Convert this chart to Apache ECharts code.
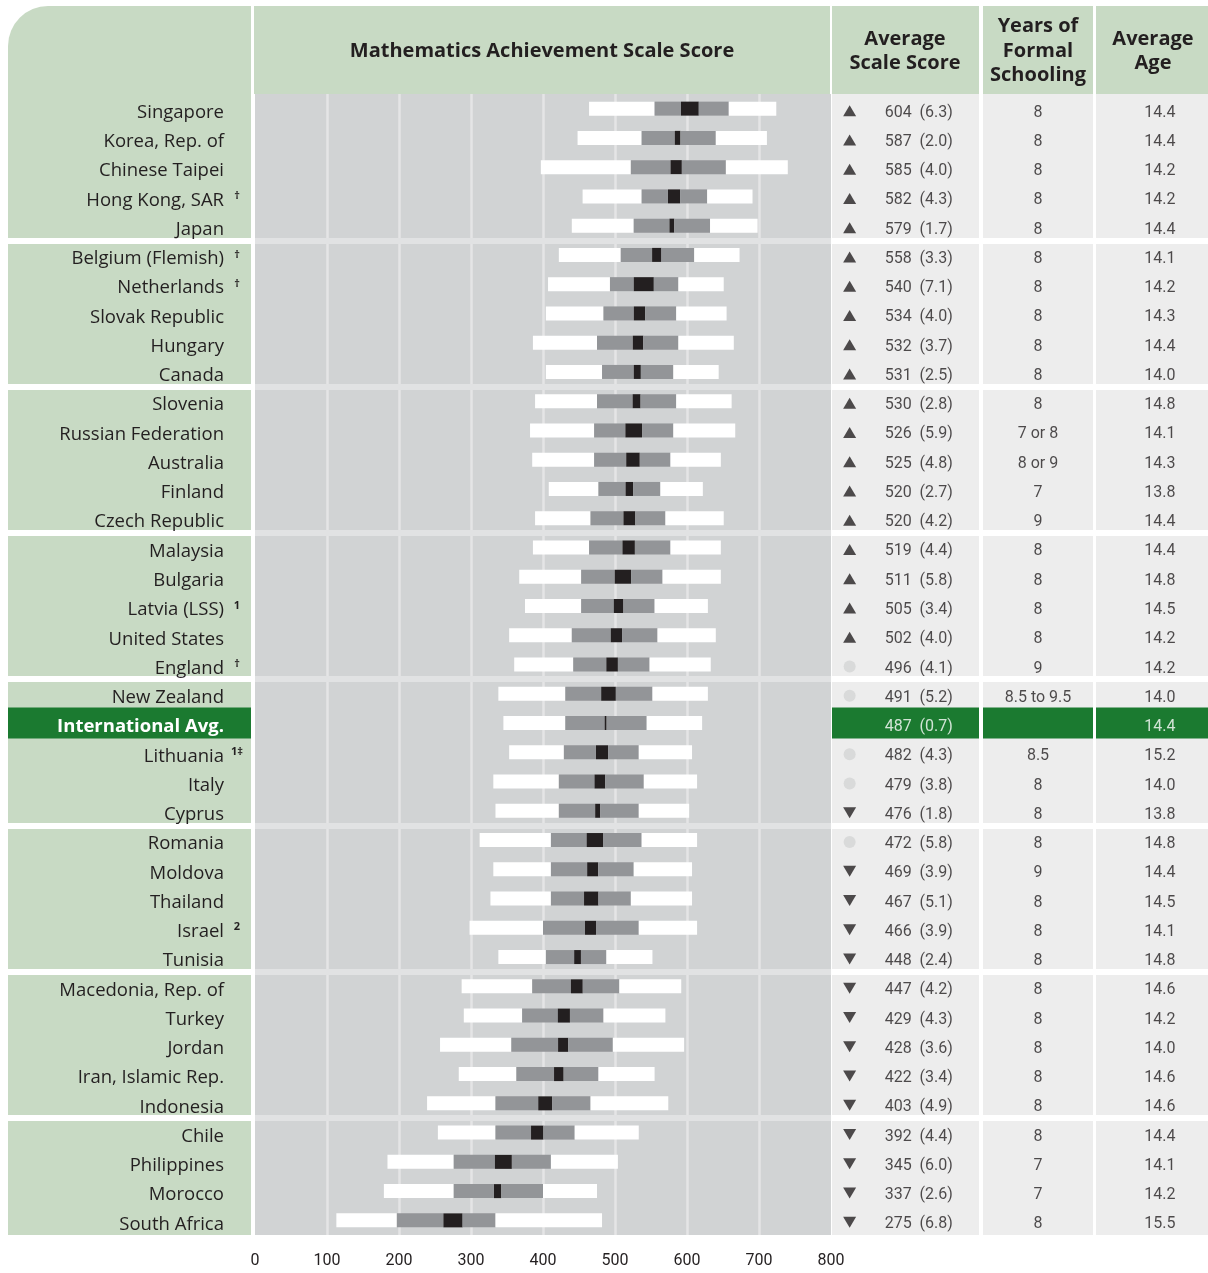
<!DOCTYPE html>
<html>
<head>
<meta charset="utf-8">
<script src="https://cdn.jsdelivr.net/npm/echarts@6/dist/echarts.min.js"></script>
<style>
  html, body { margin: 0; padding: 0; background: #fff; }
  #chart { width: 1208px; height: 1273px; }
</style>
</head>
<body>
<div id="chart"></div>
<script>
// countries in rank order, footnote marks shown after the name
const countries = ['Singapore', 'Korea, Rep. of', 'Chinese Taipei', 'Hong Kong, SAR', 'Japan',
  'Belgium (Flemish)', 'Netherlands', 'Slovak Republic', 'Hungary', 'Canada',
  'Slovenia', 'Russian Federation', 'Australia', 'Finland', 'Czech Republic',
  'Malaysia', 'Bulgaria', 'Latvia (LSS)', 'United States', 'England',
  'New Zealand', 'International Avg.', 'Lithuania', 'Italy', 'Cyprus',
  'Romania', 'Moldova', 'Thailand', 'Israel', 'Tunisia',
  'Macedonia, Rep. of', 'Turkey', 'Jordan', 'Iran, Islamic Rep.', 'Indonesia',
  'Chile', 'Philippines', 'Morocco', 'South Africa'];
const footnotes = ['', '', '', '†', '',
  '†', '†', '', '', '',
  '', '', '', '', '',
  '', '', '1', '', '†',
  '', '', '1‡', '', '',
  '', '', '', '2', '',
  '', '', '', '', '',
  '', '', '', ''];

// average scale score and its standard error
const means = [604, 587, 585, 582, 579, 558, 540, 534, 532, 531,
  530, 526, 525, 520, 520, 519, 511, 505, 502, 496,
  491, 487, 482, 479, 476, 472, 469, 467, 466, 448,
  447, 429, 428, 422, 403, 392, 345, 337, 275];
const stdErrs = [6.3, 2.0, 4.0, 4.3, 1.7, 3.3, 7.1, 4.0, 3.7, 2.5,
  2.8, 5.9, 4.8, 2.7, 4.2, 4.4, 5.8, 3.4, 4.0, 4.1,
  5.2, 0.7, 4.3, 3.8, 1.8, 5.8, 3.9, 5.1, 3.9, 2.4,
  4.2, 4.3, 3.6, 3.4, 4.9, 4.4, 6.0, 2.6, 6.8];

// percentiles of performance
const p5 = [464, 448, 397, 455, 440, 422, 407, 404, 386, 404,
  389, 382, 385, 408, 389, 386, 367, 375, 353, 360,
  338, 345, 353, 331, 334, 312, 331, 327, 298, 338,
  287, 290, 257, 283, 239, 254, 184, 179, 113];
const p25 = [555, 537, 522, 537, 526, 508, 493, 484, 475, 482,
  475, 471, 471, 477, 466, 464, 453, 453, 440, 442,
  431, 431, 429, 422, 422, 411, 411, 411, 400, 404,
  385, 371, 356, 363, 334, 334, 276, 276, 197];
const p75 = [658, 640, 654, 628, 632, 610, 588, 585, 588, 581,
  585, 581, 577, 563, 570, 577, 566, 555, 559, 548,
  552, 544, 533, 540, 533, 537, 526, 522, 533, 488,
  506, 484, 497, 477, 466, 444, 411, 400, 334];
const p95 = [724, 711, 740, 691, 698, 673, 651, 655, 665, 644,
  662, 667, 647, 622, 651, 647, 647, 629, 640, 633,
  629, 621, 607, 614, 603, 614, 607, 607, 614, 552,
  592, 570, 596, 555, 574, 533, 504, 475, 482];

const years = ['8', '8', '8', '8', '8', '8', '8', '8', '8', '8',
  '8', '7 or 8', '8 or 9', '7', '9', '8', '8', '8', '8', '9',
  '8.5 to 9.5', '', '8.5', '8', '8', '8', '9', '8', '8', '8',
  '8', '8', '8', '8', '8', '8', '7', '7', '8'];
const ages = [14.4, 14.4, 14.2, 14.2, 14.4, 14.1, 14.2, 14.3, 14.4, 14.0,
  14.8, 14.1, 14.3, 13.8, 14.4, 14.4, 14.8, 14.5, 14.2, 14.2,
  14.0, 14.4, 15.2, 14.0, 13.8, 14.8, 14.4, 14.5, 14.1, 14.8,
  14.6, 14.2, 14.0, 14.6, 14.6, 14.4, 14.1, 14.2, 15.5];

// up = significantly higher than intl avg, down = lower, same = no difference
const signif = ['up', 'up', 'up', 'up', 'up', 'up', 'up', 'up', 'up', 'up',
  'up', 'up', 'up', 'up', 'up', 'up', 'up', 'up', 'up', 'same',
  'same', '', 'same', 'same', 'down', 'same', 'down', 'down', 'down', 'down',
  'down', 'down', 'down', 'down', 'down', 'down', 'down', 'down', 'down'];

const xTicks = [0, 100, 200, 300, 400, 500, 600, 700, 800];
const groupSize = 5;

const N = countries.length;
const intlIdx = countries.indexOf('International Avg.');
const rowIdx = countries.map((_, i) => i);
const ciLow = rowIdx.map(i => means[i] - 1.96 * stdErrs[i]);
const ciHigh = rowIdx.map(i => means[i] + 1.96 * stdErrs[i]);
const breaks = [];
for (let b = groupSize; b < N; b += groupSize) breaks.push(b);

const INK = '#231f20';
const GREEN = '#c8dac4';
const DARK = '#1b7a30';
const NUM_FONT = 'Roboto';
const TXT_FONT = 'Open Sans';

const TOP = 94, BODY_H = 1141;
// 0 label panel, 1 plot, 2 score, 3 years, 4 age
const panels = [
  { left: 8, width: 243, bg: GREEN, sep: '#ffffff' },
  { left: 255, width: 576, bg: '#d1d3d4', sep: '#e1e2e3' },
  { left: 832, width: 147, bg: '#ededed', sep: '#ffffff' },
  { left: 983, width: 110, bg: '#ededed', sep: '#ffffff' },
  { left: 1096, width: 112, bg: '#ededed', sep: '#ffffff' }
];

const grids = panels.map(p => ({
  left: p.left, width: p.width, top: TOP, height: BODY_H,
  show: true, backgroundColor: p.bg, borderWidth: 0
}));

const xAxes = panels.map((p, g) => g === 1 ? {
  type: 'value', gridIndex: 1, min: xTicks[0], max: xTicks[xTicks.length - 1], interval: 100,
  axisLine: { show: false }, axisTick: { show: false },
  axisLabel: { fontFamily: NUM_FONT, fontSize: 16, color: INK, margin: 18 },
  splitLine: { show: true, showMinLine: false, showMaxLine: false, lineStyle: { color: '#e4e5e6', width: 2.5 } }
} : { type: 'value', gridIndex: g, min: 0, max: 1, show: false });

const yAxes = [];
panels.forEach((p, g) => {
  const cat = {
    type: 'category', gridIndex: g, data: countries, inverse: true, show: g === 1, z: 10,
    axisLine: { show: false }, axisTick: { show: false }, splitLine: { show: false }
  };
  if (g === 1) {
    cat.axisLabel = {
      margin: 11,
      padding: [8, 0, 0, 0],
      formatter: (v, i) => i === intlIdx ? `{avg|${v}}{fn| }` : `{name|${v}}{fn|${footnotes[i] || ' '}}`,
      rich: {
        name: { fontFamily: TXT_FONT, fontSize: 18.5, color: INK, lineHeight: 22 },
        avg: { fontFamily: TXT_FONT, fontSize: 18.5, fontWeight: 'bold', color: '#fff', lineHeight: 22 },
        fn: { fontFamily: TXT_FONT, fontSize: 11, fontWeight: 'bold', color: INK, width: 14, align: 'left',
          padding: [1, 0, 0, 6], verticalAlign: 'top', lineHeight: 12 }
      }
    };
  }
  yAxes.push(cat);
  yAxes.push({ type: 'value', gridIndex: g, min: 0, max: N, inverse: true, show: false });
});

const series = [];

// group separators
panels.forEach((p, g) => {
  series.push({
    type: 'line', xAxisIndex: g, yAxisIndex: 2 * g + 1, data: [], silent: true, z: 6,
    markLine: {
      silent: true, symbol: 'none', label: { show: false },
      lineStyle: { color: p.sep, width: 6, type: 'solid' },
      data: breaks.map(b => ({ yAxis: b }))
    }
  });
});

// dark green highlight of the international average row
[0, 2, 3, 4].forEach(g => {
  series.push({
    type: 'bar', xAxisIndex: g, yAxisIndex: 2 * g, barWidth: 31, silent: true, z: 1,
    itemStyle: { color: DARK },
    data: rowIdx.map(i => i === intlIdx ? 1 : '-')
  });
});

// percentile bars: 5th-25th, 25th-CI, CI of the mean, CI-75th, 75th-95th
const segs = [
  { vals: rowIdx.map(i => p5[i]), color: 'transparent' },
  { vals: rowIdx.map(i => p25[i] - p5[i]), color: '#ffffff' },
  { vals: rowIdx.map(i => ciLow[i] - p25[i]), color: '#939598' },
  { vals: rowIdx.map(i => ciHigh[i] - ciLow[i]), color: INK },
  { vals: rowIdx.map(i => p75[i] - ciHigh[i]), color: '#939598' },
  { vals: rowIdx.map(i => p95[i] - p75[i]), color: '#ffffff' }
];
segs.forEach(s => {
  series.push({
    type: 'bar', xAxisIndex: 1, yAxisIndex: 2, stack: 'pct', barWidth: 14, silent: true, z: 3,
    itemStyle: { color: s.color }, data: s.vals
  });
});

// significance symbols
series.push({
  type: 'scatter', xAxisIndex: 2, yAxisIndex: 4, silent: true, z: 4,
  data: rowIdx.filter(i => signif[i]).map(i => ({
    value: [0.12, i],
    symbol: signif[i] === 'same' ? 'circle' : 'triangle',
    symbolSize: signif[i] === 'same' ? 12 : [13, 11],
    symbolRotate: signif[i] === 'down' ? 180 : 0,
    symbolOffset: [0, 2],
    itemStyle: { color: signif[i] === 'same' ? '#d3d4d5' : INK }
  }))
});

function textSeries(g, xPos, fmt) {
  return {
    type: 'scatter', xAxisIndex: g, yAxisIndex: 2 * g, silent: true, z: 4,
    symbolSize: 1, itemStyle: { color: 'transparent' },
    data: rowIdx.map(i => ({
      value: [xPos, i],
      label: { color: i === intlIdx ? '#ffffff' : INK }
    })),
    label: {
      show: true, position: 'inside', offset: [0, 4],
      fontFamily: NUM_FONT, fontSize: 16,
      formatter: p => fmt(p.dataIndex)
    }
  };
}
series.push(textSeries(2, 0.59, i => `${means[i]}  (${stdErrs[i].toFixed(1)})`));
series.push(textSeries(3, 0.5, i => years[i]));
series.push(textSeries(4, 0.57, i => ages[i].toFixed(1)));

// header boxes
const hdrFont = `bold 20px "${TXT_FONT}"`;
const header = [
  { type: 'rect', shape: { x: 8, y: 6, width: 243, height: 89, r: [40, 0, 0, 0] }, style: { fill: GREEN } },
  { type: 'rect', shape: { x: 254, y: 6, width: 576, height: 88 }, style: { fill: GREEN } },
  { type: 'rect', shape: { x: 832, y: 6, width: 147, height: 88 }, style: { fill: GREEN } },
  { type: 'rect', shape: { x: 983, y: 6, width: 110, height: 88 }, style: { fill: GREEN } },
  { type: 'rect', shape: { x: 1096, y: 6, width: 112, height: 88 }, style: { fill: GREEN } },
  { type: 'text', x: 542, y: 51, style: { text: 'Mathematics Achievement Scale Score', font: hdrFont, fill: INK, align: 'center', verticalAlign: 'middle' } },
  { type: 'text', x: 905, y: 51, style: { text: 'Average\nScale Score', font: hdrFont, fill: INK, align: 'center', verticalAlign: 'middle', lineHeight: 24 } },
  { type: 'text', x: 1038, y: 51, style: { text: 'Years of\nFormal\nSchooling', font: hdrFont, fill: INK, align: 'center', verticalAlign: 'middle', lineHeight: 24.5 } },
  { type: 'text', x: 1153, y: 51, style: { text: 'Average\nAge', font: hdrFont, fill: INK, align: 'center', verticalAlign: 'middle', lineHeight: 24 } }
];

const chart = echarts.init(document.getElementById('chart'));
chart.setOption({
  backgroundColor: '#ffffff',
  animation: false,
  grid: grids,
  xAxis: xAxes,
  yAxis: yAxes,
  series: series,
  graphic: header
});
</script>
</body>
</html>
